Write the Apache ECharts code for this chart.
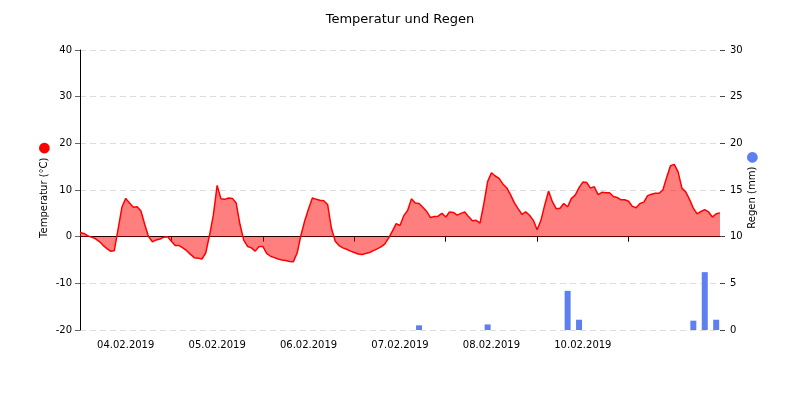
<!DOCTYPE html>
<html lang="de">
<head>
    <meta charset="UTF-8">
    <title>Temperatur und Regen</title>
    <script src="https://cdn.jsdelivr.net/npm/echarts@6/dist/echarts.min.js"></script>
</head>
<body style="margin:0">
<div id="container" style="width: 800px; height: 400px"></div>

<script type="text/javascript">
    // hourly temperature (°C), 03.02 00:00 .. 10.02 00:00 (169 points)
    var temperature = [
        0.9, 0.7, 0.2, -0.1, -0.4, -1.0, -1.8, -2.5, -3.1, -3.0,
        1.6, 6.3, 8.2, 7.2, 6.3, 6.4, 5.5, 2.6, 0.0, -1.1,
        -0.7, -0.5, -0.1, 0.0, -1.0, -1.9, -1.9, -2.4, -3.0, -3.8,
        -4.5, -4.6, -4.8, -3.5, 0.3, 4.6, 11.0, 8.1, 8.0, 8.3,
        8.2, 7.2, 2.6, -0.8, -2.1, -2.4, -3.1, -2.1, -2.1, -3.6,
        -4.2, -4.5, -4.8, -5.0, -5.1, -5.3, -5.4, -3.5, 0.3, 3.4,
        6.0, 8.3, 8.0, 7.8, 7.7, 6.9, 1.8, -1.0, -1.9, -2.4,
        -2.7, -3.1, -3.4, -3.7, -3.8, -3.6, -3.4, -3.0, -2.6, -2.2,
        -1.6, -0.3, 1.2, 2.8, 2.4, 4.5, 5.6, 8.1, 7.2, 7.1,
        6.3, 5.4, 4.1, 4.3, 4.4, 5.0, 4.2, 5.3, 5.2, 4.6,
        5.0, 5.3, 4.3, 3.4, 3.5, 2.9, 7.0, 11.8, 13.7, 13.0,
        12.5, 11.3, 10.5, 9.0, 7.3, 6.0, 4.8, 5.3, 4.6, 3.5,
        1.5, 3.5, 6.8, 9.8, 7.5, 6.0, 6.1, 7.1, 6.4, 8.2,
        8.9, 10.5, 11.7, 11.6, 10.4, 10.7, 9.0, 9.5, 9.4, 9.4,
        8.6, 8.4, 7.9, 7.9, 7.6, 6.5, 6.2, 7.1, 7.4, 8.8,
        9.1, 9.3, 9.3, 10.0, 12.7, 15.2, 15.5, 13.9, 10.4, 9.6,
        8.0, 6.1, 4.9, 5.4, 5.8, 5.3, 4.2, 4.9, 5.1
    ];

    // rain (mm): hour index and amount
    var rainHours = [89, 107, 128, 131, 161, 164, 167];
    var rainValues = [0.5, 0.6, 4.2, 1.1, 1.0, 6.2, 1.1];

    // one label per day, shown in the middle of each day
    var dayLabels = ['04.02.2019', '05.02.2019', '06.02.2019', '07.02.2019', '08.02.2019', '10.02.2019', ''];

    var hours = [];
    for (var i = 0; i < temperature.length; i++) {
        hours.push(i);
    }
    var rain = hours.map(function () { return null; });
    rainHours.forEach(function (h, k) {
        rain[h] = rainValues[k];
    });

    var font = 'DejaVu Sans';
    var dom = document.getElementById('container');
    var myChart = echarts.init(dom, null, {renderer: 'canvas'});

    var option = {
        animation: false,
        textStyle: {fontFamily: font},
        title: {
            text: 'Temperatur und Regen',
            left: 'center',
            top: 8,
            textStyle: {fontFamily: font, fontSize: 13, fontWeight: 'normal', color: '#000'}
        },
        grid: {left: 80, right: 80, top: 50, bottom: 70, containLabel: false},
        xAxis: {
            type: 'category',
            boundaryGap: false,
            data: hours,
            axisLine: {lineStyle: {color: '#000', width: 1}},
            axisTick: {
                length: 5,
                lineStyle: {color: '#000'},
                interval: function (index) {
                    return index % 24 === 0 && index > 0 && index < 168;
                }
            },
            axisLabel: {
                fontSize: 10,
                color: '#000',
                margin: 10,
                interval: function (index) {
                    return index % 24 === 12;
                },
                formatter: function (value, index) {
                    return dayLabels[Math.floor(index / 24)];
                }
            },
            splitLine: {show: false}
        },
        yAxis: [
            {
                type: 'value',
                min: -20,
                max: 40,
                interval: 10,
                name: 'Temperatur (°C) {dot|●}',
                nameLocation: 'middle',
                nameRotate: 90,
                nameGap: 29,
                nameMoveOverlap: false,
                nameTextStyle: {
                    fontSize: 10,
                    color: '#000',
                    rich: {dot: {fontSize: 14, color: '#ff0000'}}
                },
                axisLine: {show: true, lineStyle: {color: '#000'}},
                axisTick: {show: true, length: 5, lineStyle: {color: '#666'}},
                axisLabel: {fontSize: 10, color: '#000'},
                splitLine: {show: true, lineStyle: {color: '#ddd', type: [6, 4]}}
            },
            {
                type: 'value',
                min: 0,
                max: 30,
                interval: 5,
                name: 'Regen (mm) {dot|●}',
                nameLocation: 'middle',
                nameRotate: 90,
                nameGap: 25,
                nameMoveOverlap: false,
                nameTextStyle: {
                    fontSize: 10,
                    color: '#000',
                    rich: {dot: {fontSize: 14, color: '#5d80ee'}}
                },
                axisLine: {show: false},
                axisTick: {show: true, length: 5, lineStyle: {color: '#444'}},
                axisLabel: {fontSize: 10, color: '#000', margin: 10},
                splitLine: {show: false}
            }
        ],
        series: [
            {
                name: 'Temperatur',
                type: 'line',
                data: temperature,
                symbol: 'none',
                lineStyle: {color: '#ff0000', width: 1.5},
                itemStyle: {color: '#ff0000'},
                areaStyle: {color: '#ff0000', opacity: 0.5},
                z: 3
            },
            {
                name: 'Regen',
                type: 'bar',
                yAxisIndex: 1,
                data: rain,
                barWidth: 6,
                itemStyle: {color: '#5d80ee'},
                z: 2
            }
        ]
    };

    myChart.setOption(option);
    window.addEventListener('resize', myChart.resize);
</script>
</body>
</html>
